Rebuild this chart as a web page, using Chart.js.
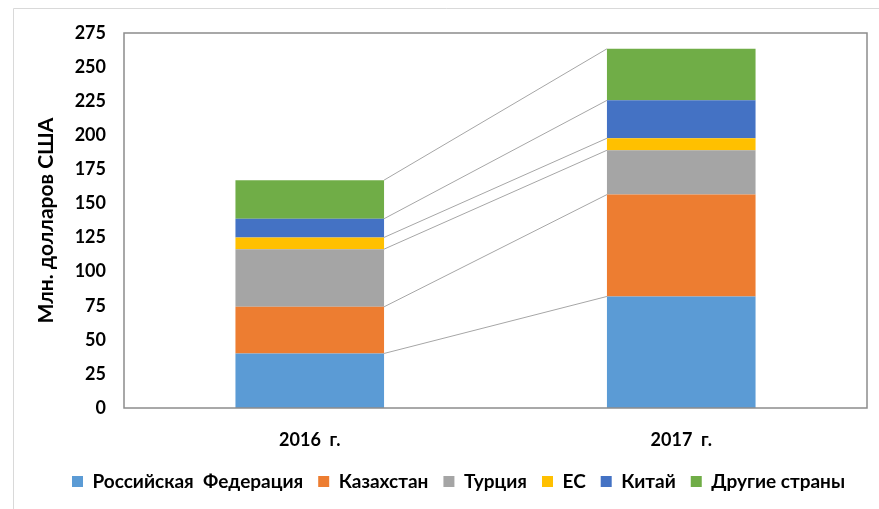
<!DOCTYPE html>
<html>
<head>
<meta charset="utf-8">
<script src="https://cdn.jsdelivr.net/npm/chart.js@4"></script>
<style>
  html, body { margin: 0; padding: 0; background: #fff; }
  #wrap { width: 879px; height: 509px; }
</style>
</head>
<body>
<div id="wrap"><canvas id="exportChart" width="879" height="509"></canvas></div>
<script>
const years = ['2016  г.', '2017  г.'];
const russia = [40, 81.8];
const kazakhstan = [34.2, 74.7];
const turkey = [42.3, 32.5];
const eu = [8.6, 8.8];
const china = [13.7, 27.8];
const others = [28.3, 37.8];
const yTicks = [0, 25, 50, 75, 100, 125, 150, 175, 200, 225, 250, 275];

const font = 'Lato, "Open Sans", sans-serif';

// Excel-style series lines between the stacked bars + plot frame
const seriesLines = {
    id: 'seriesLines',
    afterLayout(chart) {
        // legend sits a bit right of the canvas centre in the original
        const lg = chart.legend;
        if (lg && lg.adjustHitBoxes) {
            lg.left += 18;
            lg.right += 18;
            lg.adjustHitBoxes();
        }
    },
    beforeDraw(chart) {
        const ctx = chart.ctx;
        ctx.save();
        ctx.strokeStyle = '#d9d9d9';
        ctx.lineWidth = 1;
        ctx.beginPath();
        ctx.moveTo(13.5, 509);
        ctx.lineTo(13.5, 8.5);
        ctx.lineTo(879, 8.5);
        ctx.stroke();
        ctx.restore();
    },
    afterDatasetsDraw(chart) {
        const ctx = chart.ctx;
        ctx.save();
        ctx.strokeStyle = '#a6a6a6';
        ctx.lineWidth = 1;
        chart.data.datasets.forEach((ds, i) => {
            const bars = chart.getDatasetMeta(i).data;
            for (let j = 0; j < bars.length - 1; j++) {
                const a = bars[j], b = bars[j + 1];
                ctx.beginPath();
                ctx.moveTo(a.x + a.width / 2, a.y);
                ctx.lineTo(b.x - b.width / 2, b.y);
                ctx.stroke();
            }
        });
        const area = chart.chartArea;
        ctx.strokeStyle = '#8c8c8c';
        ctx.lineWidth = 1.5;
        ctx.strokeRect(area.left, area.top, area.right - area.left, area.bottom - area.top);
        ctx.restore();
    }
};

new Chart(document.getElementById('exportChart'), {
    type: 'bar',
    data: {
        labels: years,
        datasets: [
            { label: 'Российская  Федерация', data: russia, backgroundColor: '#5b9bd5' },
            { label: 'Казахстан', data: kazakhstan, backgroundColor: '#ed7d31' },
            { label: 'Турция', data: turkey, backgroundColor: '#a5a5a5' },
            { label: 'ЕС', data: eu, backgroundColor: '#ffc000' },
            { label: 'Китай', data: china, backgroundColor: '#4472c4' },
            { label: 'Другие страны', data: others, backgroundColor: '#70ad47' }
        ]
    },
    options: {
        responsive: false,
        animation: false,
        layout: { padding: { left: 14, right: 12, top: 33, bottom: 8 } },
        datasets: { bar: { categoryPercentage: 1, barPercentage: 0.4 } },
        plugins: {
            tooltip: { enabled: false },
            legend: {
                position: 'bottom',
                labels: {
                    color: '#000',
                    font: { family: font, size: 19, weight: 'bold' },
                    boxWidth: 11,
                    boxHeight: 11,
                    padding: 15
                }
            }
        },
        scales: {
            x: {
                stacked: true,
                grid: { display: false, drawTicks: false },
                border: { display: false },
                ticks: { color: '#000', font: { family: font, size: 18, weight: 'bold' }, padding: 21 },
                afterFit(scale) { scale.height = 49; }
            },
            y: {
                stacked: true,
                min: 0,
                max: 275,
                afterBuildTicks(scale) { scale.ticks = yTicks.map(v => ({ value: v })); },
                grid: { display: false, drawTicks: false },
                border: { display: false },
                title: {
                    display: true,
                    text: 'Млн. долларов США',
                    color: '#000',
                    font: { family: font, size: 21, weight: 'bold' },
                    padding: { top: 20, bottom: 0 }
                },
                ticks: { color: '#000', font: { family: font, size: 18, weight: 'bold' }, padding: 18 },
                afterFit(scale) { scale.width = 110; }
            }
        }
    },
    plugins: [seriesLines]
});
</script>
</body>
</html>
